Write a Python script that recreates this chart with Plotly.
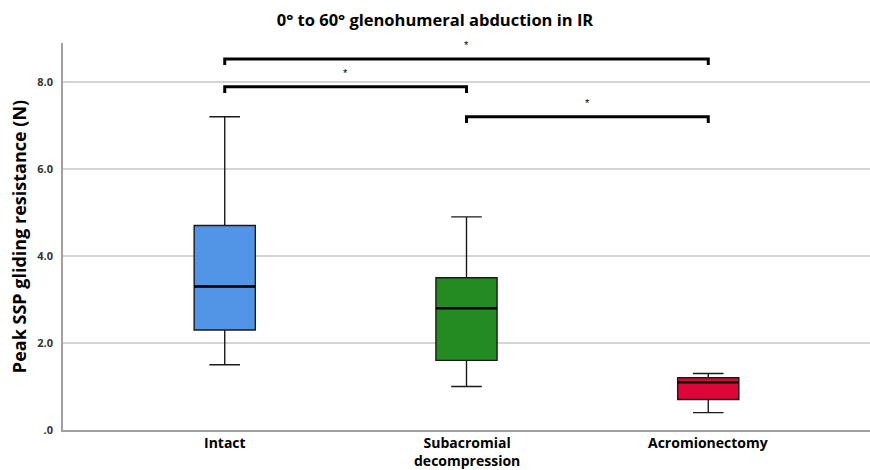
import plotly.graph_objects as go

categories = ["Intact", "Subacromial<br>decompression", "Acromionectomy"]
lower_whisker = [1.5, 1.0, 0.4]
q1 = [2.3, 1.6, 0.7]
median = [3.3, 2.8, 1.1]
q3 = [4.7, 3.5, 1.2]
upper_whisker = [7.2, 4.9, 1.3]
colors = ["#5294E6", "#238B22", "#DE0639"]

# significance comparisons: (from index, to index, bracket height, label)
comp_from = [0, 0, 1]
comp_to = [2, 1, 2]
comp_height = [8.53, 7.89, 7.20]
comp_label = ["*", "*", "*"]

tick_vals = [0, 2, 4, 6, 8]
tick_text = [".0", "2.0", "4.0", "6.0", "8.0"]

BOX_W = 0.253

fig = go.Figure()
for i, cat in enumerate(categories):
    fig.add_trace(go.Box(
        x=[cat], q1=[q1[i]], median=[median[i]], q3=[q3[i]],
        lowerfence=[lower_whisker[i]], upperfence=[upper_whisker[i]],
        fillcolor=colors[i], line=dict(color="#1a1a1a", width=1.4),
        width=BOX_W, whiskerwidth=0.5, boxpoints=False, showlegend=False,
        hoverinfo="skip",
    ))
    # thicker median line
    fig.add_shape(type="line", xref="x", yref="y",
                  x0=i - BOX_W / 2, x1=i + BOX_W / 2,
                  y0=median[i], y1=median[i],
                  line=dict(color="black", width=2.5))
    # category label
    fig.add_annotation(x=cat, xref="x", y=0, yref="paper",
                       yanchor="top", yshift=-1,
                       text="<b>" + cat + "</b>", showarrow=False,
                       font=dict(size=14, color="black", family="Open Sans"))

drop = 0.14
for a, b, h, lab in zip(comp_from, comp_to, comp_height, comp_label):
    fig.add_trace(go.Scatter(
        x=[categories[a], categories[a], categories[b], categories[b]],
        y=[h - drop, h, h, h - drop], mode="lines",
        line=dict(color="black", width=3), showlegend=False, hoverinfo="skip",
    ))
    fig.add_annotation(x=(a + b) / 2, y=h, text=lab, showarrow=False,
                       yshift=14, font=dict(size=11, color="black",
                                            family="Liberation Sans"))

fig.update_layout(
    width=870, height=470,
    margin=dict(l=63, r=0, t=43, b=40),
    paper_bgcolor="white", plot_bgcolor="white",
    title=dict(text="<b>0° to 60° glenohumeral abduction in IR</b>",
               x=0.5, xanchor="center", y=0.957, yanchor="middle",
               font=dict(size=16.5, color="black", family="Open Sans")),
    font=dict(family="Open Sans", color="black"),
    xaxis=dict(type="category", range=[-0.669, 2.669], showgrid=False,
               showline=True, linecolor="#a0a0a0", linewidth=2,
               automargin=False, showticklabels=False, ticks=""),
    yaxis=dict(range=[0, 8.897], tickvals=tick_vals,
               ticktext=["<b>" + t + "</b>" for t in tick_text],
               tickfont=dict(size=11, color="#333333", family="Open Sans"),
               showgrid=True, gridcolor="#d4d4d4", gridwidth=1.5,
               showline=True, linecolor="#a0a0a0", linewidth=1.5,
               zeroline=False, ticks="", ticklabelstandoff=6,
               automargin=False,
               title=dict(text="<b>Peak SSP gliding resistance (N)</b>",
                          font=dict(size=18, color="black", family="Open Sans"),
                          standoff=6)),
)

fig.write_html("out.html")
